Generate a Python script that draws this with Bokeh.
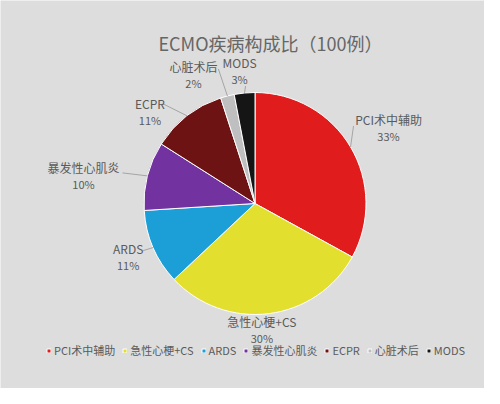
import math
import numpy as np
from bokeh.plotting import figure
from bokeh.models import Range1d, ColumnDataSource, Legend, LegendItem
from bokeh.core.properties import value
from bokeh.embed import file_html
from bokeh.resources import INLINE

# ---- data ----
categories = ["PCI术中辅助", "急性心梗+CS", "ARDS", "暴发性心肌炎", "ECPR", "心脏术后", "MODS"]
percents = [33, 30, 11, 10, 11, 2, 3]
title_text = "ECMO疾病构成比（100例）"

# ---- styles / layout ----
colors = ["#e11c1c", "#e2df2e", "#1c9fd7", "#7232a0", "#6e1313", "#bfbfbf", "#151515"]
FONT = "Noto Sans CJK SC"
BG = "#dddddd"
W, H = 484, 388
PAGE_H = 404

def Y(py):  # picture pixel y -> data y
    return PAGE_H - py

cx, cy, R = 254.5, Y(203), 111
# label offsets from slice edge point (dx, dy up) and leader end offsets
label_off = [(38, 27), (-7, -8), (-25, -1), (-64, 8), (-37, 12), (-34, 29), (-5, 30)]
leader_off = [(3, 21), (0, 0), (-10, -3), (-25, 3), (-24, 12), (-9, 27), (1, 7)]
pct_gap = 16

p = figure(width=W, height=H, output_backend="svg", toolbar_location=None,
           x_range=Range1d(0, W), y_range=Range1d(PAGE_H - H, PAGE_H),
           min_border=0, background_fill_color=BG, border_fill_color=BG,
           outline_line_color=None)
p.axis.visible = False
p.grid.visible = False

vals = np.array(percents, dtype=float)
frac = vals / vals.sum()
cum = np.concatenate([[0.0], np.cumsum(frac)])
start = math.pi / 2 - 2 * math.pi * cum[:-1]
end = math.pi / 2 - 2 * math.pi * cum[1:]
mid = (start + end) / 2

src = ColumnDataSource(dict(cat=categories, start=start, end=end, color=colors))
wr = p.wedge(x=cx, y=cy, radius=R, start_angle="start", end_angle="end",
             direction="clock", fill_color="color", line_color="white",
             line_width=1, source=src)

ex = cx + R * np.cos(mid)
ey = cy + R * np.sin(mid)
lx = ex + np.array([o[0] for o in label_off])
ly = ey + np.array([o[1] for o in label_off])
kx = ex + np.array([o[0] for o in leader_off])
ky = ey + np.array([o[1] for o in leader_off])

p.segment(x0=ex, y0=ey, x1=kx, y1=ky, line_color="#a5a5a5", line_width=1)
p.text(x=lx, y=ly, text=categories, text_font=value(FONT), text_font_size="12px",
       text_color="#5a5a5a", text_align="center", text_baseline="middle")
p.text(x=lx, y=ly - pct_gap, text=[f"{v}%" for v in percents], text_font=value(FONT),
       text_font_size="11px", text_color="#5a5a5a", text_align="center",
       text_baseline="middle")

p.text(x=[270], y=[Y(42)], text=[title_text], text_font=value(FONT),
       text_font_size="18px", text_color="#666666", text_align="center",
       text_baseline="middle")

items = [LegendItem(label=c, renderers=[wr], index=i) for i, c in enumerate(categories)]
legend = Legend(items=items, orientation="horizontal", location=(46, 30),
                glyph_width=5, glyph_height=5, label_standoff=3, spacing=7,
                padding=0, margin=0, label_text_font=FONT,
                label_text_font_size="11px", label_text_color="#5a5a5a",
                background_fill_alpha=0, border_line_alpha=0,
                label_height=12, label_width=10)
p.add_layout(legend)

open("out.html", "w").write(file_html(p, INLINE))
